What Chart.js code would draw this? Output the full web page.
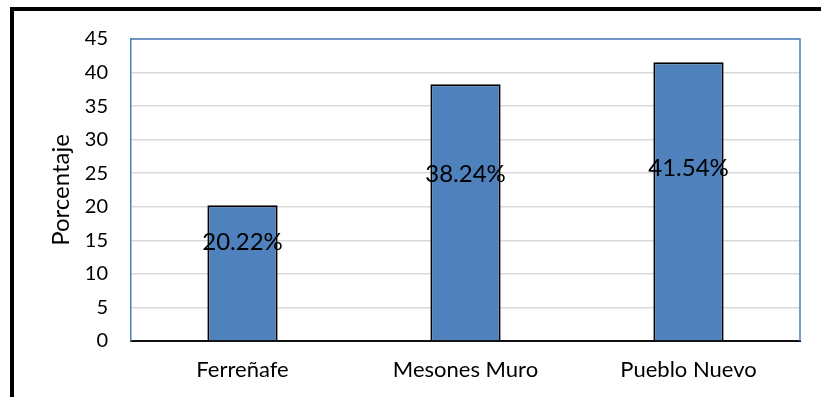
<!DOCTYPE html>
<html>
<head>
<meta charset="utf-8">
<script src="https://cdn.jsdelivr.net/npm/chart.js@4"></script>
<style>
  html, body { margin: 0; padding: 0; background: #fff; overflow: hidden; }
  #wrap { position: relative; width: 821px; height: 397px; }
  #frame { position: absolute; left: 10px; top: 7px; width: 900px; height: 500px; border: 4px solid #000; }
  #chart { position: absolute; left: 0; top: 0; }
</style>
</head>
<body>
<div id="wrap">
  <div id="frame"></div>
  <canvas id="chart" width="821" height="397"></canvas>
</div>
<script>
const districts = ['Ferreñafe', 'Mesones Muro', 'Pueblo Nuevo'];
const percents = [20.22, 38.24, 41.54];
const yTicks = [0, 5, 10, 15, 20, 25, 30, 35, 40, 45];

// where each % label sits, in axis units
const labelAt = [14.75, 24.9, 25.8];

const FONT = 'Lato';

// blue frame on top and right of the plot area
const frameLines = {
    id: 'frameLines',
    beforeDatasetsDraw(chart) {
        let { ctx, chartArea } = chart;
        ctx.save();
        ctx.strokeStyle = '#4a7ebb';
        ctx.lineWidth = 1.5;
        ctx.beginPath();
        ctx.moveTo(chartArea.left, chartArea.top);
        ctx.lineTo(chartArea.right, chartArea.top);
        ctx.lineTo(chartArea.right, chartArea.bottom);
        ctx.stroke();
        ctx.restore();
    }
};

const barLabels = {
    id: 'barLabels',
    afterDatasetsDraw(chart) {
        let { ctx } = chart;
        let meta = chart.getDatasetMeta(0);
        let yScale = chart.scales.y;
        ctx.save();
        ctx.font = '24px ' + FONT;
        ctx.fillStyle = '#000';
        ctx.textAlign = 'center';
        ctx.textBaseline = 'middle';
        meta.data.forEach((bar, i) => {
            let y = yScale.getPixelForValue(labelAt[i]);
            ctx.fillText(percents[i].toFixed(2) + '%', bar.x, y);
        });
        ctx.restore();
    }
};

new Chart(document.getElementById('chart'), {
    type: 'bar',
    data: {
        labels: districts,
        datasets: [{
            data: percents,
            backgroundColor: '#4f81bd',
            borderColor: '#000',
            borderWidth: 2,
            categoryPercentage: 1,
            barPercentage: 0.315
        }]
    },
    options: {
        responsive: false,
        animation: false,
        layout: { padding: { left: 0, top: 39, right: 21, bottom: 0 } },
        plugins: { legend: { display: false }, tooltip: { enabled: false } },
        scales: {
            x: {
                grid: { display: false, drawTicks: false },
                border: { color: '#111', width: 2 },
                ticks: { color: '#000', font: { family: FONT, size: 22 }, padding: 16 },
                afterFit(scale) { scale.height = 56; }
            },
            y: {
                min: 0,
                max: 45,
                afterBuildTicks(scale) { scale.ticks = yTicks.map(v => ({ value: v })); },
                grid: { color: '#d9d9d9', lineWidth: 1.5, drawTicks: false },
                border: { color: '#4a7ebb', width: 1.5 },
                ticks: { color: '#000', font: { family: FONT, size: 20 }, padding: 23 },
                title: {
                    display: true,
                    text: 'Porcentaje',
                    color: '#000',
                    font: { family: FONT, size: 24 },
                    padding: { top: 47, bottom: 0 }
                },
                afterFit(scale) { scale.width = 131; }
            }
        }
    },
    plugins: [frameLines, barLabels]
});
</script>
</body>
</html>
